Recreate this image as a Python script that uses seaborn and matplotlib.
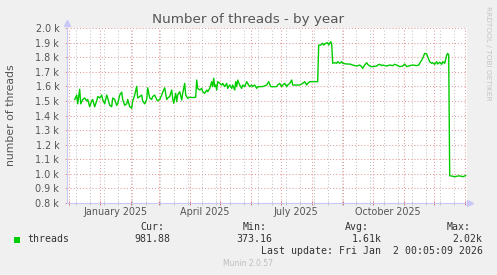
import matplotlib
matplotlib.use("Agg")
import matplotlib.pyplot as plt
from matplotlib.patches import Rectangle
import matplotlib.transforms as mtransforms
import pandas as pd
import seaborn as sns

# ---------------- data ----------------
start_date = "2024-11-28"
series_name = "threads"
series_color = "#00cc00"

day = [9, 11, 12, 14, 15, 17, 19, 21, 22, 24, 26, 27, 29, 31, 32, 34, 36, 37, 39, 41,
       42, 44, 46, 47, 49, 51, 52, 54, 56, 57, 59, 61, 62, 64, 66, 67, 69, 71, 72, 74,
       76, 77, 79, 81, 82, 84, 86, 87, 89, 91, 92, 94, 96, 97, 99, 101, 102, 104,
       106, 107, 108, 110, 111, 112, 114, 116, 117, 119, 120, 121, 122, 124, 127, 130,
       131, 132, 134, 136, 137, 139, 141, 142, 144, 146, 147, 148, 149, 150, 151, 152,
       154, 156, 157, 159, 161, 162, 164, 166, 167, 169, 170, 171, 172, 174, 176, 177,
       179, 181, 182, 184, 186, 187, 189, 191, 192,
       194, 197, 201, 203, 205, 207, 211, 212, 214, 216, 217, 219, 221, 222, 224, 226,
       227, 229, 231, 234, 237, 239, 241, 242, 244, 247, 251, 252, 253, 255, 257, 258,
       260, 262, 263, 265, 266, 267, 269, 271, 272, 274, 276, 277, 281, 284, 287, 291,
       294, 296, 297, 299, 301, 302, 304, 306, 307, 311, 312, 314, 316, 317, 321, 324,
       327, 329, 331, 334, 337, 339, 341, 344, 347, 351, 353, 356, 357, 359, 361, 362,
       364, 366, 367, 369, 371, 372, 374, 376, 377, 379, 381, 382, 383,
       384, 386, 389, 392, 394, 397, 400]

threads = [1510, 1540, 1480, 1580, 1480, 1510, 1520, 1500, 1510, 1460, 1500, 1510, 1460, 1500, 1530, 1520, 1540, 1510, 1480, 1540,
           1520, 1470, 1460, 1520, 1510, 1470, 1480, 1540, 1560, 1510, 1470, 1480, 1510, 1460, 1450, 1500, 1540, 1600, 1520, 1530,
           1540, 1500, 1480, 1510, 1590, 1520, 1510, 1530, 1540, 1510, 1500, 1510, 1540, 1560, 1590, 1510, 1520, 1530,
           1575, 1518, 1484, 1552, 1495, 1541, 1563, 1506, 1552, 1620, 1541, 1529, 1518, 1525, 1523, 1525,
           1643, 1586, 1575, 1586, 1563, 1552, 1575, 1563, 1586, 1632, 1598, 1655, 1598, 1609, 1575, 1632,
           1620, 1609, 1620, 1598, 1620, 1586, 1609, 1586, 1609, 1575, 1632, 1598, 1643, 1609, 1586, 1609,
           1598, 1632, 1620, 1598, 1609, 1598, 1609, 1586, 1598,
           1598, 1598, 1609, 1632, 1598, 1598, 1598, 1609, 1620, 1598, 1609, 1620, 1598, 1609, 1620, 1643,
           1609, 1609, 1609, 1609, 1620, 1632, 1609, 1620, 1632, 1632, 1632, 1632, 1883, 1883, 1895, 1883,
           1895, 1899, 1883, 1906, 1890, 1758, 1762, 1758, 1769, 1758, 1769, 1758, 1753, 1753, 1746, 1739,
           1746, 1735, 1723, 1746, 1762, 1751, 1739, 1735, 1735, 1739, 1746, 1751, 1742, 1746, 1739, 1746,
           1742, 1751, 1746, 1735, 1739, 1753, 1735, 1742, 1746, 1742, 1746, 1781, 1792, 1826, 1822, 1803,
           1769, 1758, 1762, 1751, 1769, 1753, 1765, 1751, 1769, 1758, 1815, 1826, 1815,
           987, 985, 980, 985, 986, 980, 988]

y_ticks = [800, 900, 1000, 1100, 1200, 1300, 1400, 1500, 1600, 1700, 1800, 1900, 2000]
x_label_months = ["2025-01-01", "2025-04-01", "2025-07-01", "2025-10-01"]
x_labels = ["January 2025", "April 2025", "July 2025", "October 2025"]

stat_names = ["Cur:", "Min:", "Avg:", "Max:"]
stat_values = ["981.88", "373.16", "1.61k", "2.02k"]
title = "Number of threads - by year"
ylabel = "number of threads"
last_update = "Last update: Fri Jan  2 00:05:09 2026"
footer = "Munin 2.0.57"
side_text = "RRDTOOL / TOBI OETIKER"

# ---------------- figure ----------------
W, H = 497, 275
bg = "#f0f0f0"
txt = "#555555"
start = pd.Timestamp(start_date)
df = pd.DataFrame({"date": start + pd.to_timedelta(day, unit="D"), series_name: threads})

fig = plt.figure(figsize=(W / 100, H / 100), dpi=100, facecolor=bg)
ax = fig.add_axes([67 / W, 72 / H, 400 / W, 175 / H])
ax.set_facecolor("white")

def fx(px):
    return px / W

def fy(py):
    return 1 - py / H

x0 = start + pd.Timedelta(days=1.3)
x1 = start + pd.Timedelta(days=401.3)

# grid lines (drawn below data)
month_starts = pd.date_range("2024-12-01", "2026-01-01", freq="MS")
biweekly = pd.date_range(end="2025-12-21", periods=30, freq="14D")
biweekly = [d for d in biweekly if x0 <= d <= x1]
dot = (0, (1, 2))
for d in biweekly:
    ax.axvline(d, color="#c4c4c4", lw=0.75, ls=dot, zorder=0)
for d in month_starts:
    ax.axvline(d, color="#e49a9a", lw=0.75, ls=dot, zorder=0.5)
for v in y_ticks[1:]:
    ax.axhline(v, color="#e49a9a", lw=0.75, ls=dot, zorder=0.5)

sns.lineplot(data=df, x="date", y=series_name, ax=ax, color=series_color,
             linewidth=1.0, zorder=3, legend=False)

ax.set_xlim(x0, x1)
ax.set_ylim(800, 2000)

# ticks
ax.set_yticks(y_ticks)
ax.set_yticklabels([f"{v / 1000:.1f} k" for v in y_ticks])
ax.tick_params(axis="y", length=1.5, width=0.7, color="#e49a9a", pad=4,
               labelsize=6.9, labelcolor=txt)
ax.set_xticks(list(month_starts[(month_starts >= x0) & (month_starts <= x1)]))
ax.set_xticklabels([])
ax.set_xticks(biweekly, minor=True)
ax.tick_params(axis="x", which="major", direction="inout", length=3,
               width=0.7, color="#e07070")
ax.tick_params(axis="x", which="minor", direction="inout", length=3,
               width=0.7, color="#c4c4c4")
ax.set_xlabel("")
ax.set_ylabel("")

trans = mtransforms.blended_transform_factory(ax.transData, ax.transAxes)
for m, lab in zip(x_label_months, x_labels):
    pos = pd.Timestamp(m) + pd.Timedelta(days=15.5)
    ax.text(pos, -0.070, lab, transform=trans, ha="center", va="baseline",
            fontsize=6.9, color=txt)

for s in ["top", "right"]:
    ax.spines[s].set_visible(False)
for s in ["left", "bottom"]:
    ax.spines[s].set_color("#c8c8f4")
    ax.spines[s].set_linewidth(0.8)
ax.plot([1.0075], [0], marker=">", ms=4.5, color="#c8c8f8", transform=ax.transAxes,
        clip_on=False, zorder=5)
ax.plot([0], [1.029], marker="^", ms=4.5, color="#c8c8f8", transform=ax.transAxes,
        clip_on=False, zorder=5)

# texts
fig.text(fx(248.5), fy(23), title, ha="center", va="baseline", fontsize=9.7, color=txt)
fig.text(fx(11), fy(115.5), ylabel, rotation=90, ha="center", va="center",
         fontsize=7.8, color=txt)
fig.text(fx(488), fy(53), side_text, rotation=270, ha="center", va="center",
         fontsize=5.3, color="#c4c4c4")

mono = "DejaVu Sans Mono"
fig.add_artist(Rectangle((fx(14), fy(242.5)), 6 / W, 6 / H, transform=fig.transFigure,
                         facecolor=series_color, edgecolor="none"))
fig.text(fx(27), fy(242.5), series_name, family=mono, fontsize=7.1, color="#333333",
         va="baseline")
name_x = [140, 242.7, 345, 446.7]
val_x = [134, 236.7, 351.7, 452.7]
for nx, vx, n, v in zip(name_x, val_x, stat_names, stat_values):
    fig.text(fx(nx), fy(230.5), n, family=mono, fontsize=7.1, color="#333333", va="baseline")
    fig.text(fx(vx), fy(242.5), v, family=mono, fontsize=7.1, color="#333333", va="baseline")
fig.text(fx(482.7), fy(254), last_update, family=mono, fontsize=7.1, color="#333333",
         va="baseline", ha="right")
fig.text(fx(248), fy(265.7), footer, fontsize=5.5, color="#bdbdbd", ha="center",
         va="baseline")

fig.savefig("out.png", dpi=100, facecolor=bg)
